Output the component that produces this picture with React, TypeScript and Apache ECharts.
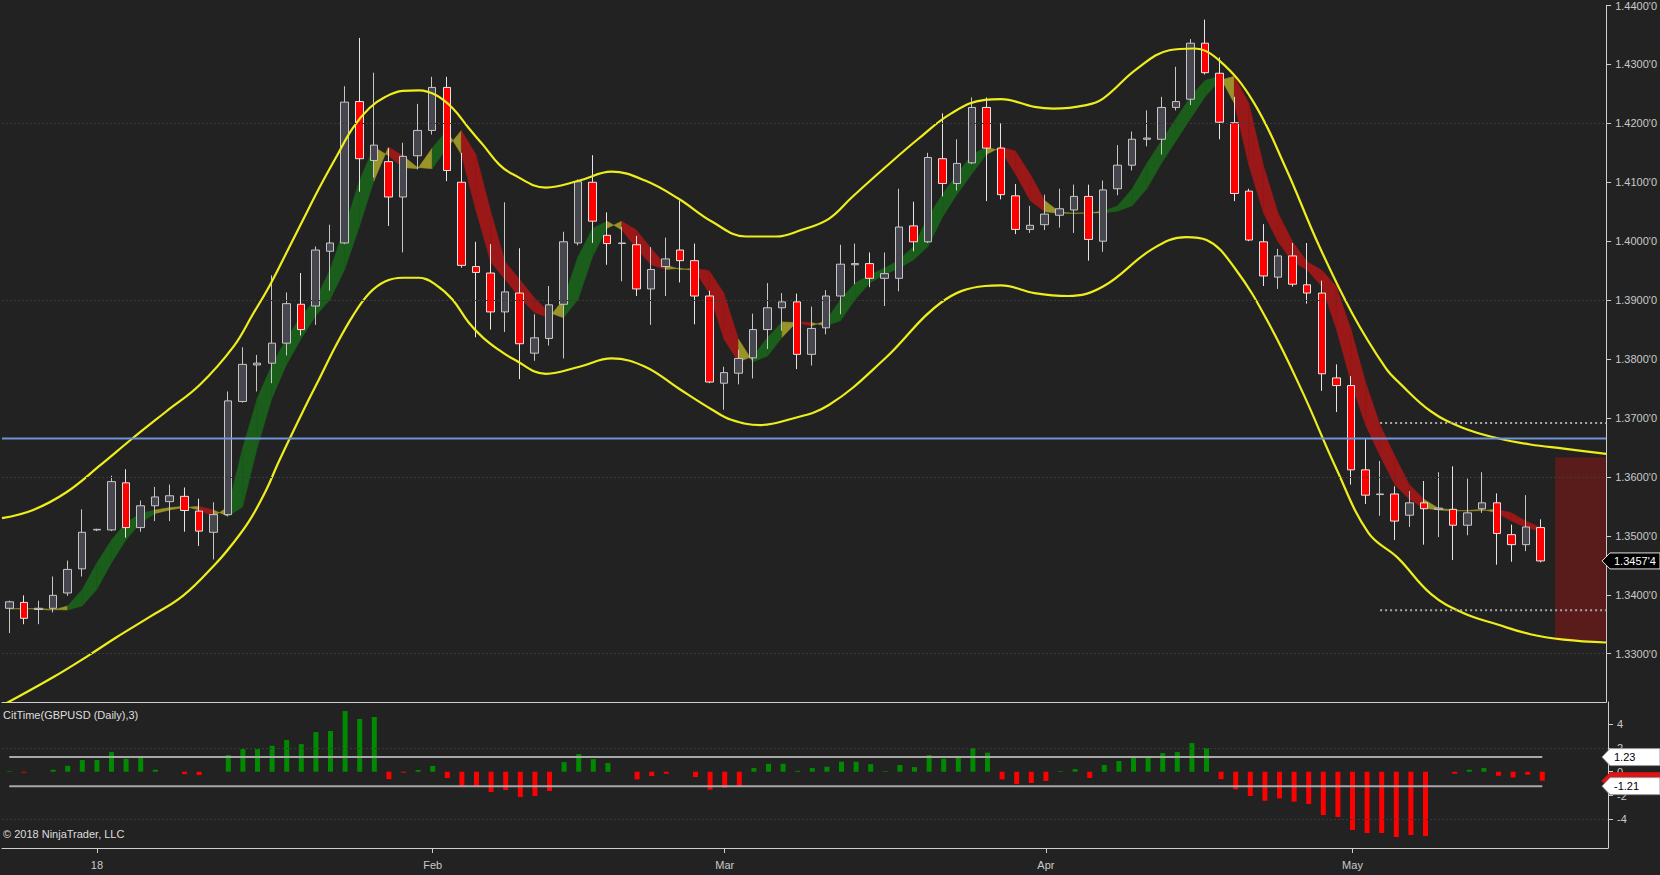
import React, { useEffect, useRef } from "react";
import * as echarts from "echarts";

// ---------- categories ----------
const dates = [
  "2017-12-22", "2017-12-25", "2017-12-26", "2017-12-27", "2017-12-28", "2017-12-29",
  "2018-01-01", "2018-01-02", "2018-01-03", "2018-01-04", "2018-01-05", "2018-01-08", "2018-01-09", "2018-01-10",
  "2018-01-11", "2018-01-12", "2018-01-15", "2018-01-16", "2018-01-17", "2018-01-18", "2018-01-19", "2018-01-22",
  "2018-01-23", "2018-01-24", "2018-01-25", "2018-01-26", "2018-01-29", "2018-01-30", "2018-01-31",
  "2018-02-01", "2018-02-02", "2018-02-05", "2018-02-06", "2018-02-07", "2018-02-08", "2018-02-09", "2018-02-12",
  "2018-02-13", "2018-02-14", "2018-02-15", "2018-02-16", "2018-02-19", "2018-02-20", "2018-02-21", "2018-02-22",
  "2018-02-23", "2018-02-26", "2018-02-27", "2018-02-28",
  "2018-03-01", "2018-03-02", "2018-03-05", "2018-03-06", "2018-03-07", "2018-03-08", "2018-03-09", "2018-03-12",
  "2018-03-13", "2018-03-14", "2018-03-15", "2018-03-16", "2018-03-19", "2018-03-20", "2018-03-21", "2018-03-22",
  "2018-03-23", "2018-03-26", "2018-03-27", "2018-03-28", "2018-03-29", "2018-03-30",
  "2018-04-02", "2018-04-03", "2018-04-04", "2018-04-05", "2018-04-06", "2018-04-09", "2018-04-10", "2018-04-11",
  "2018-04-12", "2018-04-13", "2018-04-16", "2018-04-17", "2018-04-18", "2018-04-19", "2018-04-20", "2018-04-23",
  "2018-04-24", "2018-04-25", "2018-04-26", "2018-04-27", "2018-04-30",
  "2018-05-01", "2018-05-02", "2018-05-03", "2018-05-04", "2018-05-07", "2018-05-08", "2018-05-09", "2018-05-10",
  "2018-05-11", "2018-05-14", "2018-05-15", "2018-05-16", "2018-05-17", "2018-05-18",
];
const futureSlots = ["2018-05-21", "2018-05-22", "2018-05-23", "2018-05-24"];
const axisMonthLabels: Record<string, string> = {
  "2018-01-01": "18",
  "2018-02-01": "Feb",
  "2018-03-01": "Mar",
  "2018-04-02": "Apr",
  "2018-05-01": "May",
};

// ---------- OHLC ----------
const opens = [
  1.3377, 1.3387, 1.3375, 1.3377, 1.3403, 1.3444,
  1.3510, 1.3510, 1.3590, 1.3514, 1.3551, 1.3558, 1.3567, 1.3542, 1.3506, 1.3536,
  1.3728, 1.3790, 1.3793, 1.3827, 1.3893, 1.3890, 1.3983, 1.3997, 1.4237, 1.4137,
  1.4135, 1.4075, 1.4145, 1.4188, 1.4261, 1.4100, 1.3957, 1.3946, 1.3880, 1.3912,
  1.3810, 1.3835, 1.3893, 1.3997, 1.4100, 1.4010, 1.3996, 1.3994, 1.3919, 1.3957,
  1.3985, 1.3967, 1.3907, 1.3759, 1.3776, 1.3802, 1.3850, 1.3887, 1.3897, 1.3808,
  1.3853, 1.3907, 1.3960, 1.3962, 1.3937, 1.3937, 1.4026, 1.3999, 1.4140, 1.4098,
  1.4133, 1.4227, 1.4158, 1.4077, 1.4020, 1.4028, 1.4044, 1.4053, 1.4076, 1.4000,
  1.4089, 1.4129, 1.4173, 1.4173, 1.4227, 1.4241, 1.4336, 1.4285, 1.4201, 1.4085,
  1.3999, 1.3939, 1.3975, 1.3926, 1.3912, 1.3768, 1.3755, 1.3612, 1.3570, 1.3571,
  1.3535, 1.3556, 1.3545, 1.3545, 1.3518, 1.3546, 1.3556, 1.3502, 1.3485, 1.3514,
];
const highs = [
  1.3390, 1.3399, 1.3390, 1.3431, 1.3458, 1.3545,
  1.3512, 1.3602, 1.3613, 1.3560, 1.3583, 1.3587, 1.3582, 1.3563, 1.3557, 1.3745,
  1.3820, 1.3807, 1.3942, 1.3913, 1.3946, 1.3991, 1.4028, 1.4263, 1.4345, 1.4286,
  1.4158, 1.4167, 1.4233, 1.4279, 1.4279, 1.4150, 1.3999, 1.3995, 1.4066, 1.3988,
  1.3876, 1.3924, 1.4016, 1.4105, 1.4146, 1.4049, 1.4024, 1.4009, 1.3990, 1.4006,
  1.4069, 1.3996, 1.3916, 1.3787, 1.3816, 1.3877, 1.3929, 1.3912, 1.3911, 1.3889,
  1.3917, 1.3994, 1.3996, 1.3981, 1.3981, 1.4089, 1.4067, 1.4150, 1.4217, 1.4173,
  1.4244, 1.4244, 1.4200, 1.4097, 1.4060, 1.4079, 1.4089, 1.4096, 1.4096, 1.4103,
  1.4163, 1.4186, 1.4222, 1.4245, 1.4296, 1.4343, 1.4376, 1.4312, 1.4245, 1.4089,
  1.4029, 1.3987, 1.3997, 1.3997, 1.3933, 1.3791, 1.3771, 1.3665, 1.3627, 1.3584,
  1.3576, 1.3593, 1.3608, 1.3618, 1.3597, 1.3608, 1.3572, 1.3519, 1.3569, 1.3528,
];
const lows = [
  1.3335, 1.3350, 1.3350, 1.3370, 1.3398, 1.3431,
  1.3508, 1.3508, 1.3497, 1.3507, 1.3525, 1.3525, 1.3507, 1.3483, 1.3460, 1.3534,
  1.3726, 1.3745, 1.3759, 1.3806, 1.3840, 1.3858, 1.3916, 1.3995, 1.4084, 1.4108,
  1.4026, 1.3981, 1.4122, 1.4181, 1.4102, 1.3955, 1.3837, 1.3850, 1.3846, 1.3766,
  1.3797, 1.3823, 1.3801, 1.3993, 1.3997, 1.3960, 1.3932, 1.3907, 1.3858, 1.3907,
  1.3930, 1.3859, 1.3759, 1.3714, 1.3757, 1.3767, 1.3817, 1.3848, 1.3783, 1.3789,
  1.3842, 1.3876, 1.3927, 1.3922, 1.3890, 1.3915, 1.3983, 1.3997, 1.4076, 1.4086,
  1.4131, 1.4068, 1.4071, 1.4012, 1.4014, 1.4019, 1.4023, 1.4014, 1.3967, 1.3982,
  1.4078, 1.4120, 1.4161, 1.4147, 1.4222, 1.4231, 1.4283, 1.4173, 1.4068, 1.4000,
  1.3924, 1.3919, 1.3923, 1.3894, 1.3746, 1.3710, 1.3587, 1.3554, 1.3534, 1.3493,
  1.3515, 1.3485, 1.3498, 1.3459, 1.3501, 1.3539, 1.3451, 1.3456, 1.3474, 1.3455,
];
const closes = [
  1.3388, 1.3360, 1.3377, 1.3399, 1.3443, 1.3506,
  1.3511, 1.3592, 1.3514, 1.3551, 1.3566, 1.3568, 1.3543, 1.3508, 1.3536, 1.3729,
  1.3791, 1.3793, 1.3827, 1.3894, 1.3850, 1.3985, 1.3997, 1.4236, 1.4140, 1.4163,
  1.4075, 1.4144, 1.4188, 1.4261, 1.4120, 1.3959, 1.3947, 1.3880, 1.3914, 1.3826,
  1.3836, 1.3892, 1.3999, 1.4101, 1.4034, 1.3996, 1.3997, 1.3919, 1.3952, 1.3970,
  1.3967, 1.3907, 1.3761, 1.3777, 1.3801, 1.3850, 1.3887, 1.3897, 1.3808, 1.3852,
  1.3907, 1.3961, 1.3962, 1.3937, 1.3945, 1.4024, 1.3999, 1.4142, 1.4098, 1.4132,
  1.4227, 1.4158, 1.4079, 1.4020, 1.4027, 1.4046, 1.4055, 1.4076, 1.4003, 1.4087,
  1.4129, 1.4173, 1.4175, 1.4227, 1.4237, 1.4336, 1.4286, 1.4202, 1.4081, 1.4002,
  1.3941, 1.3975, 1.3927, 1.3912, 1.3775, 1.3755, 1.3612, 1.3569, 1.3571, 1.3525,
  1.3556, 1.3546, 1.3547, 1.3518, 1.3539, 1.3556, 1.3504, 1.3485, 1.3515, 1.34574,
];

// ---------- ribbon (smoothed average, drawn against itself one bar back) ----------
const ribbonMA = [
  1.3376, 1.3377, 1.3375, 1.3374, 1.3381, 1.3409,
  1.3454, 1.3493, 1.3522, 1.3538, 1.3544, 1.3548, 1.3550, 1.3544, 1.3533, 1.3549,
  1.3649, 1.3733, 1.3790, 1.3834, 1.3873, 1.3901, 1.3952, 1.4024, 1.4102, 1.4160,
  1.4145, 1.4125, 1.4123, 1.4158, 1.4188, 1.4147, 1.4052, 1.3965, 1.3935, 1.3904,
  1.3879, 1.3870, 1.3901, 1.3974, 1.4022, 1.4034, 1.4019, 1.3988, 1.3960, 1.3952,
  1.3954, 1.3950, 1.3912, 1.3834, 1.3795, 1.3805, 1.3837, 1.3863, 1.3862, 1.3856,
  1.3865, 1.3901, 1.3929, 1.3943, 1.3954, 1.3968, 1.3991, 1.4041, 1.4080, 1.4114,
  1.4147, 1.4160, 1.4153, 1.4114, 1.4069, 1.4050, 1.4047, 1.4048, 1.4048, 1.4051,
  1.4060, 1.4089, 1.4132, 1.4170, 1.4208, 1.4245, 1.4273, 1.4280, 1.4234, 1.4129,
  1.4048, 1.3999, 1.3965, 1.3951, 1.3923, 1.3851, 1.3761, 1.3688, 1.3636, 1.3587,
  1.3562, 1.3547, 1.3544, 1.3542, 1.3543, 1.3545, 1.3539, 1.3525, 1.3514, 1.3508,
];

// ---------- envelope bands (bar position, value) ----------
const upperBandX = [
  -0.5, 1.64, 3.92, 6.2, 8.48, 10.76, 13.05, 15.4, 16.7, 17.84, 18.98, 20.12, 21.27, 22.4, 23.55, 24.7,
  25.8, 26.97, 28.1, 29.25, 30.39, 31.5, 32.5, 33.6, 34.5, 36.8, 39.1, 41.3, 43.6, 45.9, 48.2, 50.5,
  52.6, 54.3, 56.2, 57.8, 60.05, 62.3, 64.6, 66.9, 68.0, 70.3, 71.6, 73.85, 75.0, 77.3, 79.55, 81.2,
  83.0, 85.3, 87.5, 89.8, 92.1, 94.4, 95.3, 97.5, 99.7, 102.0, 104.3, 106.6, 109.5,
];
const upperBandY = [
  1.3530, 1.3544, 1.3574, 1.3619, 1.3666, 1.3711, 1.3756, 1.3822, 1.3876, 1.3924, 1.3979, 1.4035, 1.4091, 1.4142, 1.4192, 1.4226,
  1.4245, 1.4255, 1.4256, 1.4248, 1.4226, 1.4192, 1.4163, 1.4130, 1.4114, 1.4091, 1.4103, 1.4118, 1.4103, 1.4072, 1.4033, 1.4008,
  1.4008, 1.4019, 1.4038, 1.4075, 1.4125, 1.4173, 1.4217, 1.4240, 1.4241, 1.4228, 1.4225, 1.4231, 1.4242, 1.4292, 1.4324, 1.4327,
  1.4306, 1.4237, 1.4126, 1.3993, 1.3877, 1.3784, 1.3760, 1.3711, 1.3683, 1.3666, 1.3655, 1.3648, 1.3639,
];
const lowerBandX = [
  -0.5, 3.0, 5.5, 7.3, 9.6, 11.9, 14.2, 15.33, 16.5, 17.6, 18.5, 20.47, 21.27, 22.4, 23.55, 24.7,
  25.8, 26.97, 28.1, 29.25, 30.39, 31.5, 32.5, 33.6, 34.5, 36.8, 39.1, 41.3, 43.6, 45.9, 48.2, 49.5,
  51.5, 53.4, 56.2, 60.05, 63.9, 66.9, 68.0, 70.3, 72.6, 75.0, 78.4, 80.7, 82.1, 84.1, 86.4, 88.7,
  90.96, 93.2, 95.2, 97.5, 99.7, 102.0, 104.3, 106.6, 109.5,
];
const lowerBandY = [
  1.3212, 1.3260, 1.3298, 1.3327, 1.3362, 1.3398, 1.3454, 1.3487, 1.3527, 1.3577, 1.3627, 1.3728, 1.3767, 1.3823, 1.3873, 1.3912,
  1.3932, 1.3938, 1.3938, 1.3926, 1.3901, 1.3862, 1.3836, 1.3815, 1.3801, 1.3775, 1.3787, 1.3801, 1.3787, 1.3750, 1.3714, 1.3697,
  1.3688, 1.3697, 1.3722, 1.3801, 1.3896, 1.3924, 1.3925, 1.3912, 1.3907, 1.3923, 1.3987, 1.4007, 1.4002, 1.3952, 1.3859, 1.3743,
  1.3616, 1.3505, 1.3463, 1.3401, 1.3369, 1.3350, 1.3333, 1.3324, 1.3319,
];

// ---------- lower panel ----------
const citTime = [
  0.05, -0.08, 0, 0.17, 0.5, 0.98,
  0.98, 1.65, 1.09, 1.32, 0.17, 0, -0.2, -0.28, 0, 1.4,
  1.9, 1.9, 2.18, 2.66, 2.32, 3.33, 3.42, 5.1, 4.43, 4.6,
  -0.62, -0.08, 0.14, 0.48, -0.53, -1.2, -1.29, -1.71, -1.54, -2.13,
  -2.04, -1.62, 0.81, 1.48, 1.06, 0.73, 0, -0.64, -0.36, -0.17,
  0, -0.45, -1.51, -1.34, -1.2, 0.31, 0.67, 0.67, 0.08, 0.31,
  0.42, 0.84, 0.84, 0.64, 0.05, 0.56, 0.39, 1.4, 1.09, 1.32,
  1.99, 1.6, -0.64, -1.04, -0.95, -0.78, 0.05, 0.22, -0.53, 0.56,
  0.9, 1.26, 1.26, 1.57, 1.65, 2.41, 1.99, -0.62, -1.48, -2.04,
  -2.44, -2.24, -2.52, -2.72, -3.64, -3.81, -4.9, -5.15, -5.15, -5.49,
  -5.32, -5.41, 0, -0.17, 0.17, 0.31, -0.34, -0.48, -0.25, -0.76,
];
const citUpperLevel = 1.23;
const citLowerLevel = -1.21;
const citTicks = [4, 2, 0, -2, -4];
const citGridLines = [2, -4];

// ---------- price axis & levels ----------
const priceTicks = [1.33, 1.34, 1.35, 1.36, 1.37, 1.38, 1.39, 1.40, 1.41, 1.42, 1.43, 1.44];
const priceGridLines = [1.33, 1.36, 1.39, 1.42];
const blueLevel = 1.3665;
const projectionHigh = 1.36915;
const projectionLow = 1.33738;
const projectionStart = 94;
const boxTop = 1.36333;
const boxBottom = 1.33223;
const boxStart = 106;

const fmtPrice = (v: number) => {
  const s = v.toFixed(5);
  return s.slice(0, 6) + "'" + s.slice(6);
};

const FONT = '"Liberation Sans", Arial, sans-serif';
const AXIS_COLOR = "#cfcfcf";
const LABEL_COLOR = "#c9c9c9";

export default function App() {
  const ref = useRef<HTMLDivElement>(null);

  useEffect(() => {
    if (!ref.current) return;
    const chart = echarts.init(ref.current, null, { renderer: "svg" });
    const categories = [...dates, ...futureSlots];
    const nCat = categories.length;

    const candleData = dates.map((_, i) => [opens[i], closes[i], lows[i], highs[i]]);

    const ribbonData: number[][] = [];
    for (let i = 1; i < ribbonMA.length; i++) {
      const m = ribbonMA[i];
      const prev = ribbonMA[i - 1];
      const prev2 = i >= 2 ? ribbonMA[i - 2] : prev;
      const d1 = m - prev;
      const d0 = prev - prev2;
      let c = d1 >= 0 ? 0 : 1;
      if (Math.abs(d1) < 0.0005 || d0 * d1 < 0) c = 2;
      ribbonData.push([i, prev2, prev, m, c]);
    }
    const ribbonColors = ["#1b5e1b", "#9a1818", "#9a9428"];

    const showMonth = (_i: number, v: string) => axisMonthLabels[v] !== undefined;

    const option: any = {
      animation: false,
      backgroundColor: "#222222",
      textStyle: { fontFamily: FONT },
      grid: [
        { left: 2, right: 52, top: 0, height: 702 },
        { left: 2, right: 52, top: 702, height: 146 },
      ],
      xAxis: [
        {
          type: "category",
          gridIndex: 0,
          data: categories,
          boundaryGap: true,
          axisLine: { show: true, onZero: false, lineStyle: { color: AXIS_COLOR, width: 1 } },
          axisTick: { show: false },
          axisLabel: { show: false },
          splitLine: { show: false },
        },
        {
          type: "category",
          gridIndex: 1,
          data: categories,
          boundaryGap: true,
          axisLine: { show: true, onZero: false, lineStyle: { color: AXIS_COLOR, width: 1 } },
          axisTick: {
            show: true,
            alignWithLabel: true,
            interval: showMonth,
            length: 5,
            lineStyle: { color: AXIS_COLOR },
          },
          axisLabel: {
            interval: showMonth,
            formatter: (v: string) => axisMonthLabels[v] || "",
            color: LABEL_COLOR,
            fontSize: 11,
            fontFamily: FONT,
            margin: 11,
          },
          splitLine: { show: false },
        },
        { type: "value", gridIndex: 0, min: -0.5, max: nCat - 0.5, show: false, axisLine: { onZero: false } },
        { type: "value", gridIndex: 1, min: -0.5, max: nCat - 0.5, show: false, axisLine: { onZero: false } },
      ],
      yAxis: [
        {
          type: "value",
          gridIndex: 0,
          position: "right",
          min: 1.3218,
          max: 1.44,
          axisLine: { show: true, onZero: false, lineStyle: { color: AXIS_COLOR, width: 1 } },
          axisTick: { show: true, length: 5, customValues: priceTicks, lineStyle: { color: AXIS_COLOR } },
          axisLabel: {
            customValues: priceTicks,
            formatter: fmtPrice,
            color: LABEL_COLOR,
            fontSize: 11,
            fontFamily: FONT,
            margin: 9,
          },
          splitLine: { show: false },
        },
        {
          type: "value",
          gridIndex: 1,
          position: "right",
          min: -6.41,
          max: 5.86,
          axisLine: { show: true, onZero: false, lineStyle: { color: AXIS_COLOR, width: 1 } },
          axisTick: { show: true, length: 5, customValues: citTicks, lineStyle: { color: AXIS_COLOR } },
          axisLabel: {
            customValues: citTicks,
            formatter: (v: number) => String(Math.round(v)),
            color: LABEL_COLOR,
            fontSize: 11,
            fontFamily: FONT,
            margin: 9,
          },
          splitLine: { show: false },
        },
      ],
      series: [
        {
          name: "priceGrid",
          type: "line",
          xAxisIndex: 2,
          yAxisIndex: 0,
          data: [[0, 1.4]],
          symbol: "none",
          lineStyle: { opacity: 0 },
          silent: true,
          z: 0,
          markLine: {
            silent: true,
            symbol: ["none", "none"],
            label: { show: false },
            lineStyle: { color: "#3b3b3b", type: [2, 2], width: 1 },
            data: priceGridLines.map((v) => ({ yAxis: v })),
          },
        },
        {
          name: "ribbon",
          type: "custom",
          xAxisIndex: 2,
          yAxisIndex: 0,
          z: 1,
          clip: true,
          silent: true,
          encode: { x: 0, y: [1, 2, 3] },
          data: ribbonData,
          renderItem: (_params: any, api: any) => {
            const x1 = api.value(0);
            const x0 = x1 - 1;
            const p1 = api.coord([x0, api.value(2)]);
            const p2 = api.coord([x1, api.value(3)]);
            const p3 = api.coord([x1, api.value(2)]);
            const p4 = api.coord([x0, api.value(1)]);
            return {
              type: "polygon",
              shape: { points: [p1, p2, p3, p4] },
              style: { fill: ribbonColors[api.value(4)], stroke: ribbonColors[api.value(4)], lineWidth: 0.5 },
            };
          },
        },
        {
          name: "GBPUSD",
          type: "candlestick",
          xAxisIndex: 0,
          yAxisIndex: 0,
          z: 2,
          barWidth: 8,
          data: candleData,
          itemStyle: {
            color: "#46464e",
            color0: "#ff0000",
            borderColor: "#c6c6c6",
            borderColor0: "#e6e6e6",
            borderColorDoji: "#c6c6c6",
            borderWidth: 1,
          },
        },
        {
          name: "upperBand",
          type: "line",
          xAxisIndex: 2,
          yAxisIndex: 0,
          z: 3,
          smooth: 0.4,
          symbol: "none",
          data: upperBandX.map((x, i) => [x, upperBandY[i]]),
          lineStyle: { color: "#eeee1c", width: 2.2 },
        },
        {
          name: "lowerBand",
          type: "line",
          xAxisIndex: 2,
          yAxisIndex: 0,
          z: 3,
          smooth: 0.4,
          symbol: "none",
          data: lowerBandX.map((x, i) => [x, lowerBandY[i]]),
          lineStyle: { color: "#eeee1c", width: 2.2 },
        },
        {
          name: "blueLevel",
          type: "line",
          xAxisIndex: 2,
          yAxisIndex: 0,
          z: 4,
          symbol: "none",
          data: [[-0.5, blueLevel], [nCat - 0.5, blueLevel]],
          lineStyle: { color: "#6f93d8", width: 2 },
        },
        {
          name: "projHigh",
          type: "line",
          xAxisIndex: 2,
          yAxisIndex: 0,
          z: 4,
          symbol: "none",
          data: [[projectionStart, projectionHigh], [nCat - 0.5, projectionHigh]],
          lineStyle: { color: "#a8a8a8", width: 2, type: [2, 3] },
        },
        {
          name: "projLow",
          type: "line",
          xAxisIndex: 2,
          yAxisIndex: 0,
          z: 4,
          symbol: "none",
          data: [[projectionStart, projectionLow], [nCat - 0.5, projectionLow]],
          lineStyle: { color: "#a8a8a8", width: 2, type: [2, 3] },
        },
        {
          name: "box",
          type: "line",
          xAxisIndex: 2,
          yAxisIndex: 0,
          z: 5,
          symbol: "none",
          data: [[boxStart, (boxTop + boxBottom) / 2]],
          lineStyle: { opacity: 0 },
          silent: true,
          markArea: {
            silent: true,
            itemStyle: { color: "rgba(160,20,20,0.45)" },
            data: [[{ coord: [boxStart, boxTop] }, { coord: [nCat - 0.5, boxBottom] }]],
          },
        },
        {
          name: "citGrid",
          type: "line",
          xAxisIndex: 3,
          yAxisIndex: 1,
          data: [[0, 0]],
          symbol: "none",
          lineStyle: { opacity: 0 },
          silent: true,
          z: 0,
          markLine: {
            silent: true,
            symbol: ["none", "none"],
            label: { show: false },
            lineStyle: { color: "#3b3b3b", type: [2, 2], width: 1 },
            data: citGridLines.map((v) => ({ yAxis: v })),
          },
        },
        {
          name: "CitTime",
          type: "bar",
          xAxisIndex: 1,
          yAxisIndex: 1,
          z: 2,
          barWidth: 5,
          data: citTime.map((v) => ({ value: v, itemStyle: { color: v >= 0 ? "#008a00" : "#ff0000" } })),
        },
        {
          name: "citUpper",
          type: "line",
          xAxisIndex: 3,
          yAxisIndex: 1,
          z: 3,
          symbol: "none",
          data: [[0, citUpperLevel], [dates.length - 1, citUpperLevel]],
          lineStyle: { color: "#a8a8a8", width: 2 },
        },
        {
          name: "citLower",
          type: "line",
          xAxisIndex: 3,
          yAxisIndex: 1,
          z: 3,
          symbol: "none",
          data: [[0, citLowerLevel], [dates.length - 1, citLowerLevel]],
          lineStyle: { color: "#a8a8a8", width: 2 },
        },
      ],
    };

    chart.setOption(option);

    const lastPrice = closes[closes.length - 1];
    const lastCit = citTime[citTime.length - 1];
    const yPrice = chart.convertToPixel({ yAxisIndex: 0 } as any, lastPrice) as unknown as number;
    const yUp = chart.convertToPixel({ yAxisIndex: 1 } as any, citUpperLevel) as unknown as number;
    const yLo = chart.convertToPixel({ yAxisIndex: 1 } as any, citLowerLevel) as unknown as number;
    const yCit = chart.convertToPixel({ yAxisIndex: 1 } as any, lastCit) as unknown as number;

    const flag = (y: number, fill: string, stroke: string, h: number) => ({
      type: "polygon",
      z: 100,
      shape: {
        points: [
          [1602, y],
          [1610, y - h / 2],
          [1660, y - h / 2],
          [1660, y + h / 2],
          [1610, y + h / 2],
        ],
      },
      style: { fill, stroke, lineWidth: 1 },
    });
    const flagText = (y: number, text: string, color: string) => ({
      type: "text",
      z: 101,
      x: 1614,
      y,
      style: { text, fill: color, font: `11px ${FONT}`, verticalAlign: "middle", align: "left" },
    });

    chart.setOption({
      graphic: [
        {
          type: "text",
          x: 3,
          y: 715,
          style: { text: "CitTime(GBPUSD (Daily),3)", fill: "#dedede", font: `11px ${FONT}`, verticalAlign: "middle" },
        },
        {
          type: "text",
          x: 3,
          y: 834,
          style: { text: "© 2018 NinjaTrader, LLC", fill: "#dedede", font: `11px ${FONT}`, verticalAlign: "middle" },
        },
        flag(yPrice, "#000000", "#e0e0e0", 16),
        flagText(yPrice, fmtPrice(lastPrice), "#ffffff"),
        flag(yCit, "#e01414", "#e01414", 16),
        flag(yUp, "#ffffff", "#9a9a9a", 17),
        flagText(yUp, citUpperLevel.toFixed(2), "#000000"),
        flag(yLo, "#ffffff", "#9a9a9a", 17),
        flagText(yLo, citLowerLevel.toFixed(2), "#000000"),
      ],
    });

    return () => chart.dispose();
  }, []);

  return (
    <div
      ref={ref}
      style={{ position: "fixed", left: 0, top: 0, width: 1660, height: 875, background: "#222222" }}
    />
  );
}
